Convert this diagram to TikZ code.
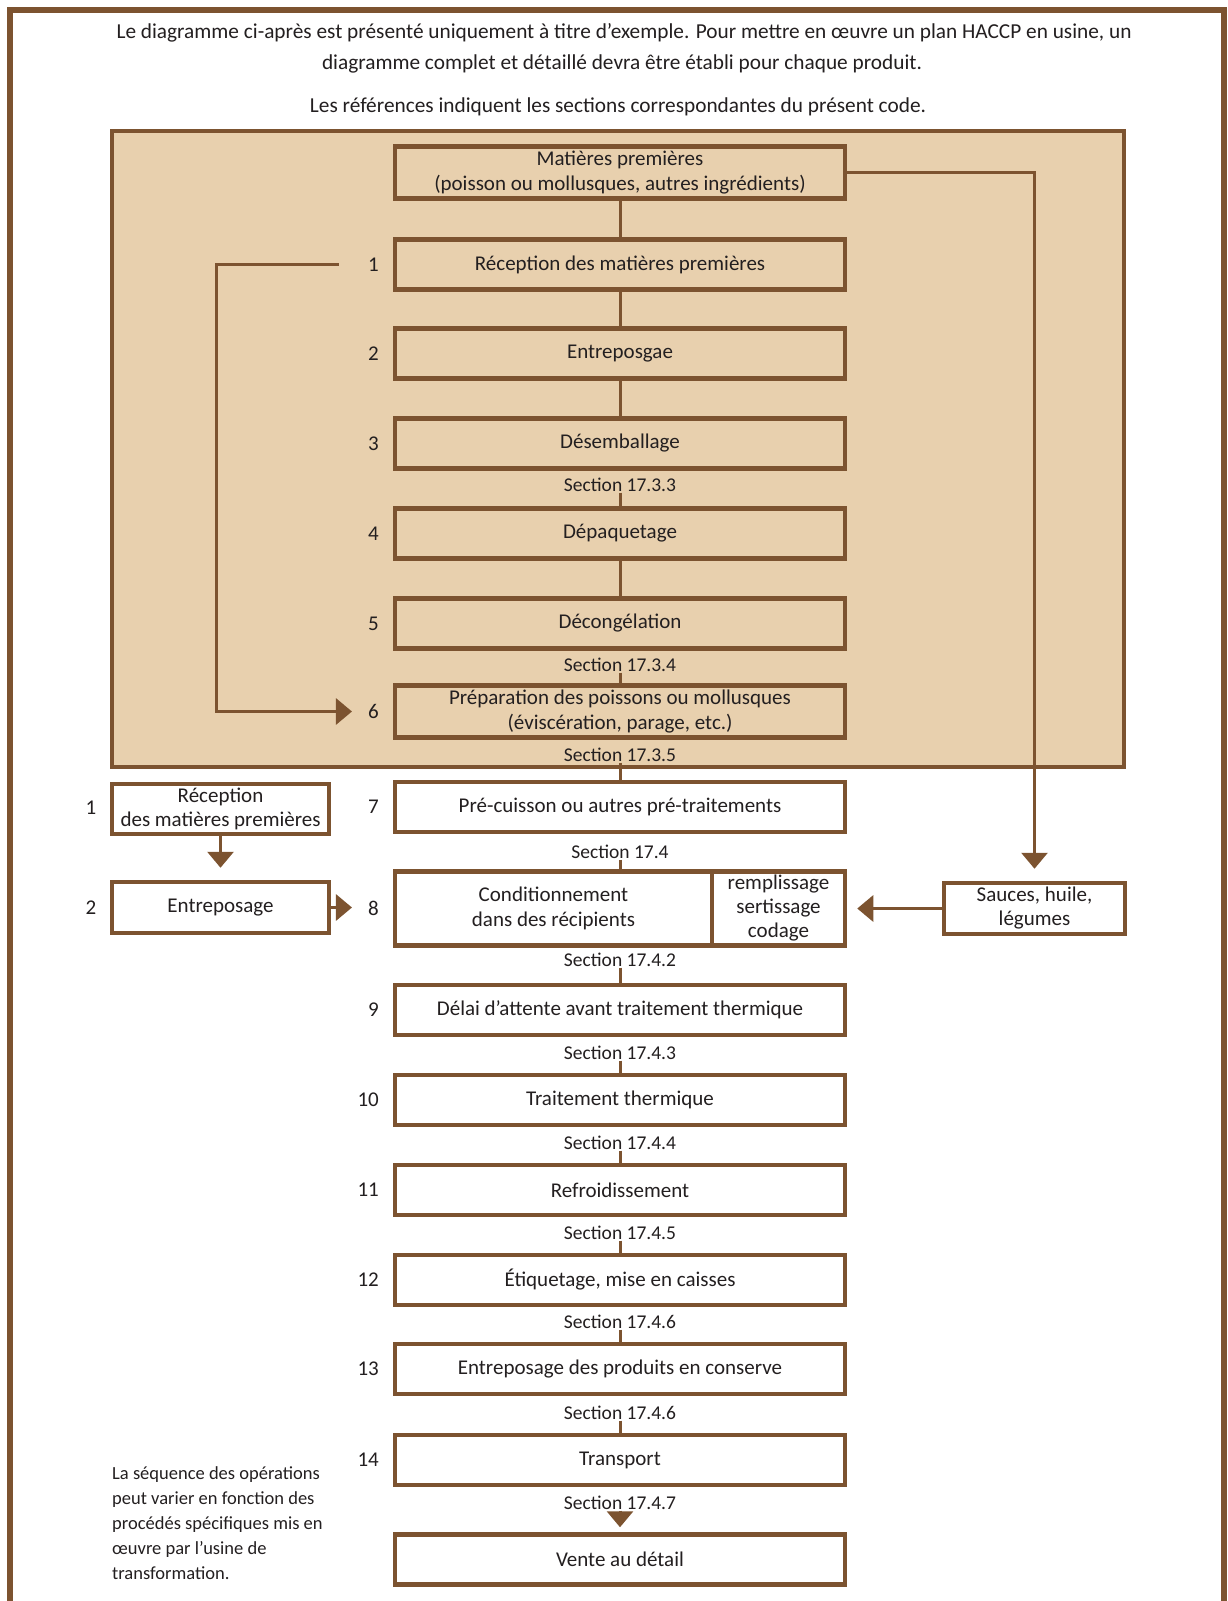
\documentclass[tikz,border=0pt]{standalone}
\usepackage{fontspec}
\setmainfont{Carlito}
\usetikzlibrary{arrows.meta}
\definecolor{brn}{RGB}{124,83,48}
\definecolor{tanbg}{RGB}{232,208,174}
\definecolor{ink}{RGB}{35,31,32}
\begin{document}
\begin{tikzpicture}[x=1pt,y=-1pt,
  every node/.style={text=ink},
  box/.style={draw=brn, line width=4.5pt, fill=white, minimum width=450pt, minimum height=50pt, inner sep=0pt, align=center, font=\fontsize{21}{25.5}\selectfont},
  tanbox/.style={box, fill=tanbg},
  num/.style={anchor=east, inner sep=2pt, font=\fontsize{21}{24}\selectfont},
  sec/.style={inner sep=0.5pt, font=\fontsize{19.5}{22}\selectfont},
  ttl/.style={anchor=base, inner sep=0pt, font=\fontsize{21.3}{24}\selectfont},
  conn/.style={draw=brn, line width=3pt},
  arr/.style={conn, -{Triangle[length=16pt,width=26pt]}},
]
\useasboundingbox (0,0) rectangle (1228,1601);
\fill[white] (0,0) rectangle (1228,1601);
% outer frame
\draw[brn, line width=6pt] (10,1610) -- (10,10) -- (1224,10) -- (1224,1610);
% title
\node[ttl] (t1) at (624,38) {Le diagramme ci-après est présenté uniquement à titre d’exemple. Pour mettre en œuvre un plan HACCP en usine, un};
\node[ttl] (t2) at (622,69) {diagramme complet et détaillé devra être établi pour chaque produit.};
\node[ttl] (t3) at (618,112) {Les références indiquent les sections correspondantes du présent code.};
% tan region
\draw[brn, line width=4pt, fill=tanbg] (112,131) rectangle (1124,767);

% main column
\node[tanbox, minimum height=52pt] (mat) at (620,172.5) {Matières premières\\(poisson ou mollusques, autres ingrédients)};
\node[tanbox] (b1) at (620,264.5) {Réception des matières premières};
\node[tanbox] (b2) at (620,353.5) {Entreposgae};
\node[tanbox] (b3) at (620,443.5) {Désemballage};
\node[sec] (s3) at (620,485) {Section 17.3.3};
\node[tanbox] (b4) at (620,533.5) {Dépaquetage};
\node[tanbox] (b5) at (620,623.5) {Décongélation};
\node[sec] (s5) at (620,665) {Section 17.3.4};
\node[tanbox, minimum height=52pt] (b6) at (620,711.5) {Préparation des poissons ou mollusques\\(éviscération, parage, etc.)};
\node[sec] (s6) at (620,755) {Section 17.3.5};
\node[box] (b7) at (620,807) {Pré-cuisson ou autres pré-traitements};
\node[sec] (s7) at (620,852) {Section 17.4};
\node[box, minimum width=317pt, minimum height=74pt] (b8) at (553.5,908.5) {Conditionnement\\dans des récipients};
\node[box, minimum width=133pt, minimum height=74pt, font=\fontsize{21}{24}\selectfont] (b8r) at (778.5,908.5) {remplissage\\sertissage\\codage};
\node[sec] (s8) at (620,960) {Section 17.4.2};
\node[box] (b9) at (620,1010) {Délai d’attente avant traitement thermique};
\node[sec] (s9) at (620,1053) {Section 17.4.3};
\node[box] (b10) at (620,1100) {Traitement thermique};
\node[sec] (s10) at (620,1143) {Section 17.4.4};
\node[box] (b11) at (620,1190) {Refroidissement};
\node[sec] (s11) at (620,1233) {Section 17.4.5};
\node[box] (b12) at (620,1280) {Étiquetage, mise en caisses};
\node[sec] (s12) at (620,1322) {Section 17.4.6};
\node[box] (b13) at (620,1369) {Entreposage des produits en conserve};
\node[sec] (s13) at (620,1413) {Section 17.4.6};
\node[box] (b14) at (620,1460) {Transport};
\node[sec] (s14) at (620,1503) {Section 17.4.7};
\node[box] (b15) at (620,1559.5) {Vente au détail};

% numbers
\node[num] (n1) at (381,264.5) {1};
\node[num] (n2) at (381,353.5) {2};
\node[num] (n3) at (381,443.5) {3};
\node[num] (n4) at (381,533.5) {4};
\node[num] (n5) at (381,623.5) {5};
\node[num] (n6) at (381,711.5) {6};
\node[num] (n7) at (381,807) {7};
\node[num] (n8) at (381,908.5) {8};
\node[num] (n9) at (381,1010) {9};
\node[num] (n10) at (381,1100) {10};
\node[num] (n11) at (381,1190) {11};
\node[num] (n12) at (381,1280) {12};
\node[num] (n13) at (381,1369) {13};
\node[num] (n14) at (381,1460) {14};

% side boxes
\node[box, minimum width=217pt, minimum height=50pt, font=\fontsize{21}{24}\selectfont] (rec) at (220.5,809) {Réception\\des matières premières};
\node[box, minimum width=217pt, minimum height=51pt] (ent) at (220.5,907.5) {Entreposage};
\node[num, anchor=center] (m1) at (91,808) {1};
\node[num, anchor=center] (m2) at (91,907.5) {2};
\node[box, minimum width=181pt, minimum height=51pt, font=\fontsize{21}{24}\selectfont] (sauce) at (1034.5,908.5) {Sauces, huile,\\légumes};

% note
\node[anchor=north west, inner sep=0pt, align=left, font=\fontsize{18.5}{25}\selectfont] (note) at (112,1466) {La séquence des opérations\\peut varier en fonction des\\procédés spécifiques mis en\\œuvre par l’usine de\\transformation.};

% connectors
\draw[conn] (mat.south) -- (b1.north);
\draw[conn] (b1.south) -- (b2.north);
\draw[conn] (b2.south) -- (b3.north);
\draw[conn] (s3.south) -- (b4.north);
\draw[conn] (b4.south) -- (b5.north);
\draw[conn] (s5.south) -- (b6.north);
\draw[conn] (s6.south) -- (b7.north);
\draw[conn] (s7.south) -- (b7.south |- b8.north);
\draw[conn] (s8.south) -- (b9.north);
\draw[conn] (s9.south) -- (b10.north);
\draw[conn] (s10.south) -- (b11.north);
\draw[conn] (s11.south) -- (b12.north);
\draw[conn] (s12.south) -- (b13.north);
\draw[conn] (s13.south) -- (b14.north);
\draw[arr] (s14.south) -- ([yshift=5pt]b15.north);

% feedback 1 -> 6
\coordinate (fb) at (216,0);
\coordinate (fbs) at ([xshift=-27pt]n1.west);
\coordinate (fbe) at ([xshift=-14pt]n6.west);
\draw[arr] (fbs) -- (fbs -| fb) -- (fbe -| fb) -- (fbe);
% raw materials -> sauces
\draw[arr] (mat.east) -| ([yshift=12pt]sauce.north);
\draw[arr] (sauce.west) -- ([xshift=10pt]b8r.east);
% side chain
\draw[arr] (rec.south) -- ([yshift=12pt]ent.north);
\coordinate (ene) at ([xshift=-14pt]n8.west);
\draw[arr] (ent.east) -- (ent.east -| ene);
\end{tikzpicture}
\end{document}
